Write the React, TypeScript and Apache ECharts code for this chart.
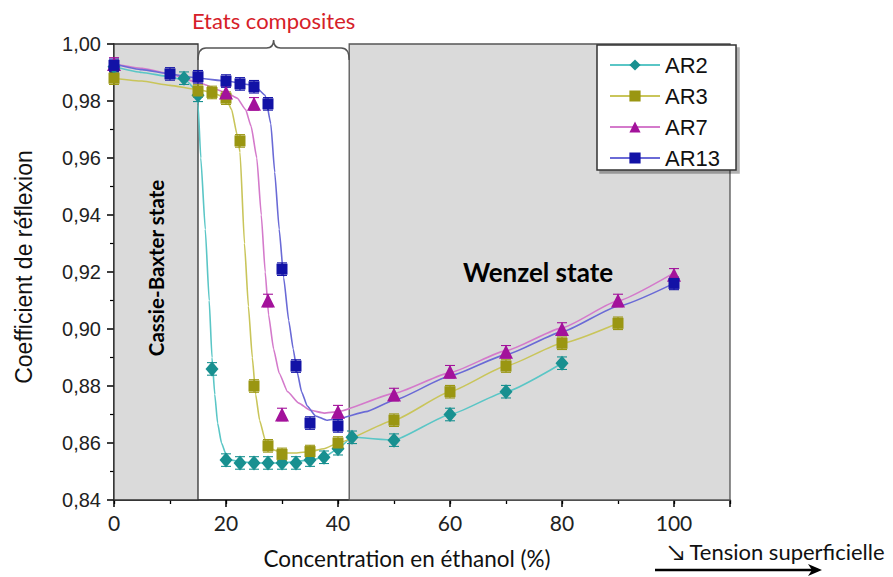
import React, { useEffect, useRef } from "react";
import * as echarts from "echarts";

// ---------- data ----------
const SERIES_NAMES = ["AR2", "AR3", "AR7", "AR13"];

const AR2_X = [0, 12.5, 15, 17.5, 20, 22.5, 25, 27.5, 30, 32.5, 35, 37.5, 40, 42.5, 50, 60, 70, 80];
const AR2_Y = [0.992, 0.988, 0.982, 0.886, 0.854, 0.853, 0.853, 0.853, 0.853, 0.853, 0.854, 0.855, 0.858, 0.862, 0.861, 0.870, 0.878, 0.888];

const AR3_X = [0, 15, 17.5, 20, 22.5, 25, 27.5, 30, 35, 40, 50, 60, 70, 80, 90];
const AR3_Y = [0.988, 0.9835, 0.983, 0.981, 0.966, 0.880, 0.859, 0.856, 0.857, 0.860, 0.868, 0.878, 0.887, 0.895, 0.902];

const AR7_X = [0, 20, 25, 27.5, 30, 40, 50, 60, 70, 80, 90, 100];
const AR7_Y = [0.993, 0.983, 0.979, 0.910, 0.870, 0.871, 0.877, 0.885, 0.892, 0.900, 0.910, 0.919];

const AR13_X = [0, 10, 15, 20, 22.5, 25, 27.5, 30, 32.5, 35, 40, 100];
const AR13_Y = [0.9925, 0.9895, 0.9885, 0.987, 0.986, 0.985, 0.979, 0.921, 0.887, 0.867, 0.866, 0.916];

// fitted curves
const AR2_FIT_X = [0, 5, 10, 13, 14.5, 15, 15.5, 16.3, 17, 17.5, 18, 18.5, 19.2, 20, 21, 22.5, 25, 30, 35, 37.5, 40, 42.5, 50, 60, 70, 80];
const AR2_FIT_Y = [0.992, 0.990, 0.9885, 0.987, 0.984, 0.979, 0.960, 0.935, 0.910, 0.890, 0.877, 0.867, 0.860, 0.856, 0.854, 0.8535, 0.853, 0.853, 0.854, 0.855, 0.858, 0.862, 0.861, 0.870, 0.878, 0.888];

const AR3_FIT_X = [0, 5, 10, 15, 17.5, 20, 21, 22, 22.5, 23.3, 24, 24.7, 25.3, 26, 27, 28, 30, 32.5, 35, 37.5, 40, 50, 60, 70, 80, 90];
const AR3_FIT_Y = [0.988, 0.987, 0.9855, 0.984, 0.983, 0.981, 0.977, 0.968, 0.962, 0.930, 0.908, 0.890, 0.877, 0.868, 0.861, 0.858, 0.8565, 0.8565, 0.857, 0.858, 0.860, 0.868, 0.878, 0.887, 0.895, 0.902];

const AR7_FIT_X = [0, 5, 10, 15, 20, 22, 23.5, 24.5, 25.5, 26.3, 27, 27.6, 28.5, 29.5, 31, 33, 35, 37.5, 40, 50, 60, 70, 80, 90, 100];
const AR7_FIT_Y = [0.993, 0.9915, 0.9895, 0.9865, 0.983, 0.981, 0.977, 0.971, 0.960, 0.940, 0.920, 0.905, 0.893, 0.8845, 0.878, 0.874, 0.8715, 0.8705, 0.871, 0.8774, 0.8847, 0.8924, 0.9004, 0.9099, 0.9197];

const AR13_FIT_X = [0, 5, 10, 15, 20, 25, 27, 28, 28.7, 29.5, 30.3, 31.2, 32, 32.7, 33.5, 34.5, 36, 38, 40, 45, 50, 60, 70, 80, 90, 100];
const AR13_FIT_Y = [0.993, 0.991, 0.9895, 0.988, 0.987, 0.9855, 0.982, 0.972, 0.955, 0.935, 0.918, 0.903, 0.893, 0.885, 0.878, 0.873, 0.8695, 0.868, 0.8685, 0.871, 0.875, 0.8835, 0.891, 0.899, 0.908, 0.916];

const ERROR_BAR = 0.0022;

const Y_TICKS = [0.84, 0.86, 0.88, 0.9, 0.92, 0.94, 0.96, 0.98, 1.0];
const X_TICKS = [0, 20, 40, 60, 80, 100];

// regions (x ranges)
const CASSIE_RANGE = [0, 15];
const WENZEL_RANGE = [42, 110];

const MARKER_COLORS = ["#189090", "#9a9612", "#a3129b", "#1212a6"];
const LINE_COLORS = ["#5ac6c6", "#c9c55a", "#d47acb", "#6a6ad6"];
const SYMBOLS = ["diamond", "rect", "triangle", "rect"];
const SYMBOL_SIZES: any[] = [[13, 15], 11, 14, 11];

const zip = (xs: number[], ys: number[]) => xs.map((x, i) => [x, ys[i]]);

export default function App() {
  const ref = useRef<HTMLDivElement>(null);
  useEffect(() => {
    if (!ref.current) return;
    const chart = echarts.init(ref.current, null, { renderer: "svg" });
    const pts = [zip(AR2_X, AR2_Y), zip(AR3_X, AR3_Y), zip(AR7_X, AR7_Y), zip(AR13_X, AR13_Y)];
    const fits = [
      zip(AR2_FIT_X, AR2_FIT_Y),
      zip(AR3_FIT_X, AR3_FIT_Y),
      zip(AR7_FIT_X, AR7_FIT_Y),
      zip(AR13_FIT_X, AR13_FIT_Y),
    ];

    const series: any[] = [
      {
        type: "line",
        name: "bg",
        data: [],
        silent: true,
        z: 0,
        markArea: {
          silent: true,
          data: [
            [
              { xAxis: CASSIE_RANGE[0], yAxis: Y_TICKS[0], itemStyle: { color: "#dadada", borderColor: "#333", borderWidth: 1.3 } },
              { xAxis: CASSIE_RANGE[1], yAxis: Y_TICKS[Y_TICKS.length - 1] },
            ],
            [
              { xAxis: WENZEL_RANGE[0], yAxis: Y_TICKS[0], itemStyle: { color: "#dadada", borderColor: "#555", borderWidth: 1.3 } },
              { xAxis: WENZEL_RANGE[1], yAxis: Y_TICKS[Y_TICKS.length - 1] },
            ],
          ],
        },
      },
    ];

    SERIES_NAMES.forEach((name, i) => {
      series.push({
        type: "line",
        name,
        data: fits[i],
        showSymbol: false,
        symbol: SYMBOLS[i],
        symbolSize: SYMBOL_SIZES[i],
        smooth: 0.15,
        smoothMonotone: "x",
        itemStyle: { color: MARKER_COLORS[i] },
        lineStyle: { color: LINE_COLORS[i], width: 1.6 },
        z: 2,
        silent: true,
      });
    });
    SERIES_NAMES.forEach((name, i) => {
      const color = MARKER_COLORS[i];
      series.push({
        type: "custom",
        name: name + " err",
        data: pts[i].map((p) => [p[0], p[1], ERROR_BAR]),
        z: 3,
        silent: true,
        renderItem: (params: any, api: any) => {
          const x = api.value(0);
          const y = api.value(1);
          const e = api.value(2);
          const top = api.coord([x, y + e]);
          const bot = api.coord([x, y - e]);
          const hw = 5;
          const st = { stroke: color, lineWidth: 1.1 };
          return {
            type: "group",
            children: [
              { type: "line", shape: { x1: top[0], y1: top[1], x2: bot[0], y2: bot[1] }, style: st },
              { type: "line", shape: { x1: top[0] - hw, y1: top[1], x2: top[0] + hw, y2: top[1] }, style: st },
              { type: "line", shape: { x1: bot[0] - hw, y1: bot[1], x2: bot[0] + hw, y2: bot[1] }, style: st },
            ],
          };
        },
      });
    });
    SERIES_NAMES.forEach((name, i) => {
      series.push({
        type: "scatter",
        name,
        data: pts[i],
        symbol: SYMBOLS[i],
        symbolSize: SYMBOL_SIZES[i],
        itemStyle: { color: MARKER_COLORS[i], opacity: 1 },
        z: 4 + i,
      });
    });

    const fmtY = (v: number) => v.toFixed(2).replace(".", ",");

    chart.setOption({
      animation: false,
      grid: { left: 114, right: 163, top: 44, bottom: 77 },
      xAxis: [
        {
          type: "value",
          min: 0,
          max: 110,
          interval: 20,
          axisLine: { show: true, lineStyle: { color: "#000", width: 1.5 } },
          axisTick: { show: true, length: 7, lineStyle: { color: "#000", width: 1.5 } },
          axisLabel: {
            margin: 12,
            fontSize: 21,
            fontFamily: "Lato",
            color: "#222",
            formatter: (v: number) => (X_TICKS.indexOf(v) >= 0 ? String(v) : ""),
          },
          splitLine: { show: false },
        },
        {
          type: "value",
          position: "bottom",
          min: 0,
          max: 110,
          interval: 10,
          axisLine: { show: false },
          axisTick: { show: true, length: 4, lineStyle: { color: "#000", width: 1.3 } },
          axisLabel: { show: false },
          splitLine: { show: false },
        },
      ],
      yAxis: {
        type: "value",
        min: 0.84,
        max: 1.0,
        interval: 0.02,
        axisLine: { show: true, lineStyle: { color: "#000", width: 1.5 } },
        axisTick: { show: true, length: 7, lineStyle: { color: "#000", width: 1.5 } },
        minorTick: { show: true, splitNumber: 2, length: 4, lineStyle: { color: "#000", width: 1.2 } },
        axisLabel: { margin: 13, fontSize: 20, fontFamily: "Liberation Sans", color: "#222", formatter: fmtY },
        splitLine: { show: false },
      },
      legend: {
        orient: "vertical",
        left: 597,
        top: 45,
        data: SERIES_NAMES,
        itemWidth: 50,
        itemHeight: 14,
        itemGap: 9,
        padding: [9, 16, 1, 12],
        backgroundColor: "#fff",
        borderColor: "#333",
        borderWidth: 1.5,
        shadowColor: "rgba(0,0,0,0.3)",
        shadowOffsetX: 3,
        shadowOffsetY: 3,
        shadowBlur: 0,
        selectedMode: false,
        textStyle: { fontSize: 22, fontFamily: "Liberation Sans", color: "#111", lineHeight: 20 },
      },
      series,
    });

    // brace above the composite-state region
    const p0 = chart.convertToPixel({ xAxisIndex: 0, yAxisIndex: 0 }, [CASSIE_RANGE[1], Y_TICKS[Y_TICKS.length - 1]]) as number[];
    const p1 = chart.convertToPixel({ xAxisIndex: 0, yAxisIndex: 0 }, [WENZEL_RANGE[0], Y_TICKS[Y_TICKS.length - 1]]) as number[];
    const w = p1[0] - p0[0];
    const m = w / 2;
    const d = `M0,16 Q0,4 8,4 L${m - 7},4 Q${m},4 ${m},-4 Q${m},4 ${m + 7},4 L${w - 8},4 Q${w},4 ${w},16`;
    echarts.graphic.registerShape("brace", echarts.graphic.extendPath(d, {}) as any);

    chart.setOption({
      graphic: [
        {
          type: "brace",
          x: p0[0],
          y: p0[1],
          z: 50,
          style: { fill: "none", stroke: "#555", lineWidth: 1.5 },
        },
        {
          type: "text",
          x: (p0[0] + p1[0]) / 2,
          y: 20,
          style: { text: "Etats composites", fill: "#d62028", fontSize: 22, fontFamily: "Lato", align: "center", verticalAlign: "middle" },
        },
        {
          type: "text",
          x: 24,
          y: 267,
          rotation: Math.PI / 2,
          style: { text: "Coefficient de réflexion", fill: "#111", fontSize: 23, fontFamily: "Liberation Sans", align: "center", verticalAlign: "middle" },
        },
        {
          type: "text",
          x: 407,
          y: 558,
          style: { text: "Concentration en éthanol (%)", fill: "#111", fontSize: 22.5, fontFamily: "Lato", align: "center", verticalAlign: "middle" },
        },
        {
          type: "text",
          x: 156,
          y: 268,
          rotation: Math.PI / 2,
          z: 50,
          style: { text: "Cassie-Baxter state", fill: "#000", fontSize: 20.5, fontWeight: "bold", fontFamily: "Lato", align: "center", verticalAlign: "middle" },
        },
        {
          type: "text",
          x: 538,
          y: 272,
          z: 50,
          style: { text: "Wenzel state", fill: "#000", fontSize: 26, fontWeight: "bold", fontFamily: "Lato", align: "center", verticalAlign: "middle" },
        },
        {
          type: "text",
          x: 668,
          y: 551,
          style: { text: "↘ Tension superficielle", fill: "#111", fontSize: 22, fontFamily: "Lato", align: "left", verticalAlign: "middle" },
        },
        {
          type: "line",
          shape: { x1: 655, y1: 570, x2: 818, y2: 570 },
          style: { stroke: "#000", lineWidth: 2.5 },
        },
        {
          type: "polygon",
          shape: { points: [[808, 564], [822, 570], [808, 576], [812, 570]] },
          style: { fill: "#000" },
        },
      ],
    });

    return () => chart.dispose();
  }, []);
  return <div ref={ref} style={{ position: "fixed", left: 0, top: 0, width: 893, height: 577, background: "#fff" }} />;
}
